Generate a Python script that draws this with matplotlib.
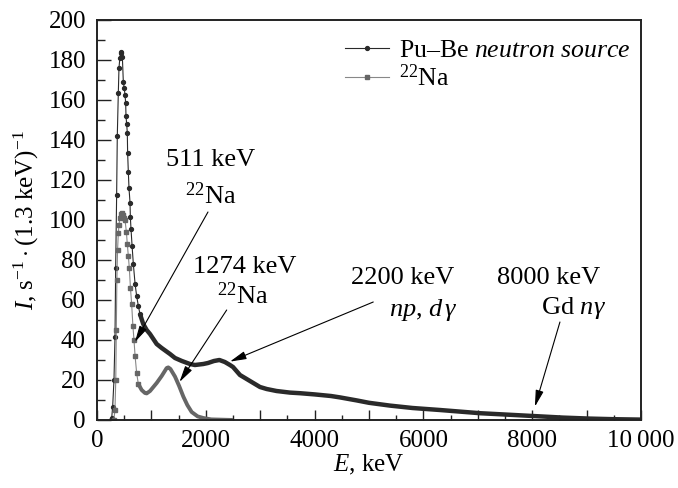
import numpy as np
import matplotlib
matplotlib.use('Agg')
import matplotlib.pyplot as plt
from matplotlib.lines import Line2D

plt.rcParams['font.family'] = ['Liberation Serif', 'DejaVu Serif']
plt.rcParams['mathtext.fontset'] = 'custom'
plt.rcParams['mathtext.rm'] = 'Liberation Serif'
plt.rcParams['mathtext.it'] = 'Liberation Serif:italic'
plt.rcParams['mathtext.bf'] = 'Liberation Serif:bold'

# Pu-Be neutron source spectrum (E in keV, counts per s per 1.3 keV)
pube_e = np.array([250, 270, 288, 312, 331, 343, 361, 373, 392, 404, 420, 435, 447, 466, 484,
                   500, 515, 527, 533, 545, 557, 563, 576, 588, 607, 613, 625, 645, 668, 700,
                   729, 760, 790, 850, 913, 974, 1097, 1189, 1342, 1434, 1560, 1709, 1800,
                   1954, 2040, 2150, 2250, 2350, 2444, 2500, 2628, 2812, 2996, 3119, 3300,
                   3547, 3731, 4000, 4300, 4466, 4773, 5000, 5385, 5800, 6304, 7040, 8014,
                   8565, 9061, 9500, 10000])
pube_i = np.array([0, 1, 6.7, 20, 41.7, 76, 112.5, 142, 163.7, 176, 181, 183.7, 184, 181.7, 169,
                   166, 162.5, 158.5, 152, 148, 143.7, 133.5, 124, 116, 108.7, 101.5, 95.5, 87,
                   78, 68, 62, 57, 53, 48, 45, 43, 38, 36, 33, 31, 29.5, 28, 27.5,
                   28, 28.5, 29.5, 30, 29, 27.5, 26.5, 22.5, 19.5, 16.5, 15.5, 14.5,
                   13.7, 13.4, 12.8, 12, 11.3, 9.8, 8.6, 7.2, 6, 5, 3.4, 2,
                   1.2, 0.7, 0.4, 0.2])

# 22Na spectrum
na_e = np.array([310, 330, 345, 355, 365, 378, 392, 404, 422, 440, 453, 470, 490, 515, 540,
                 557, 576, 594, 615, 637, 660, 680, 700, 729, 760, 821, 882, 913, 975, 1097,
                 1189, 1281, 1311, 1350, 1434, 1510, 1587, 1660, 1740, 1850, 1954, 2100, 2500])
na_i = np.array([0, 5, 20, 45, 70, 85, 93.5, 97.5, 101, 103, 103.5, 102.5, 101, 100, 94,
                 88, 82, 76, 66, 58, 47, 40, 32, 23.5, 18, 15, 13.5, 13.3, 14.5, 18.5,
                 22, 26, 26.3, 25.5, 21.7, 17, 11.7, 7.5, 4, 1.8, 1, 0.3, 0])

xticks = [0, 2000, 4000, 6000, 8000, 10000]
xticklabels = ['0', '2000', '4000', '6000', '8000', '10\u2009000']

c_pb = '#2a2a2a'
c_na = '#666666'

fig = plt.figure(figsize=(6.78, 4.88), dpi=100)
ax = fig.add_axes([97 / 678, 68 / 488, 544 / 678, 400 / 488])

# dotted (marker) part near the peak, dense thick part in the tail
k_pb = np.searchsorted(pube_e, 790)
ax.plot(pube_e[:k_pb + 1], pube_i[:k_pb + 1], '-', color=c_pb, lw=0.8,
        marker='o', ms=2.8, mec=c_pb, mfc=c_pb)
ax.plot(pube_e[k_pb:], pube_i[k_pb:], '-', color=c_pb, lw=3.2, solid_capstyle='butt')

k_na = np.searchsorted(na_e, 760)
ax.plot(na_e[:k_na + 1], na_i[:k_na + 1], '-', color='#888888', lw=0.8,
        marker='s', ms=2.6, mec=c_na, mfc=c_na)
ax.plot(na_e[k_na:], na_i[k_na:], '-', color=c_na, lw=2.8, solid_capstyle='butt')

ax.set_xlim(0, 10000)
ax.set_ylim(0, 200)

ax.set_xticks(np.arange(0, 10001, 1000))
ax.set_xticklabels([xticklabels[xticks.index(v)] if v in xticks else ''
                    for v in range(0, 10001, 1000)])
ax.set_xticks(np.arange(500, 10000, 1000), minor=True)
ax.set_yticks(np.arange(0, 201, 20))
ax.set_yticks(np.arange(10, 200, 20), minor=True)

ax.tick_params(axis='both', which='both', direction='in', top=False, right=False,
               labelsize=18, width=1.0, color='#222222')
ax.tick_params(axis='y', which='major', length=10, pad=8)
ax.tick_params(axis='y', which='minor', length=6)
ax.tick_params(axis='x', which='major', length=7, pad=7)
ax.tick_params(axis='x', which='minor', length=3.5)
for s in ax.spines.values():
    s.set_linewidth(1.4)
    s.set_color('#222222')

ax.set_xlabel(r'$E$, keV', fontsize=18, labelpad=1)
ax.set_ylabel(r'$I$, s$^{-1}\cdot$(1.3 keV)$^{-1}$', fontsize=18, labelpad=5)

# annotations
fs = 19
arrow = dict(arrowstyle='-|>,head_length=0.9,head_width=0.22', color='black', lw=0.8,
             shrinkA=0, shrinkB=0, mutation_scale=11)
ax.text(2095, 130, '511 keV', fontsize=fs, ha='center', va='center')
ax.text(2095, 112, r'$^{22}$Na', fontsize=fs, ha='center', va='center')
ax.annotate('', xy=(698, 39), xytext=(2040, 104), arrowprops=arrow)

ax.text(2720, 76.5, '1274 keV', fontsize=fs, ha='center', va='center')
ax.text(2680, 62, r'$^{22}$Na', fontsize=fs, ha='center', va='center')
ax.annotate('', xy=(1516, 19), xytext=(2384, 55), arrowprops=arrow)

ax.text(5624, 71, '2200 keV', fontsize=fs, ha='center', va='center')
ax.text(6010, 55, r'$np$, $d\,\gamma$', fontsize=fs, ha='center', va='center')
ax.annotate('', xy=(2444, 29.2), xytext=(5078, 59), arrowprops=arrow)

ax.text(8308, 71, '8000 keV', fontsize=fs, ha='center', va='center')
ax.text(8750, 56, r'Gd $n\gamma$', fontsize=fs, ha='center', va='center')
ax.annotate('', xy=(8050, 6.7), xytext=(8510, 49), arrowprops=arrow)

handles = [Line2D([], [], color=c_pb, lw=0.8, marker='o', ms=2.8),
           Line2D([], [], color='#888888', lw=0.8, marker='s', ms=2.6, mec=c_na, mfc=c_na)]
ax.legend(handles, [r'Pu–Be $neutron\ source$', r'$^{22}$Na'], loc='upper left',
          bbox_to_anchor=(0.456, 0.952), frameon=False, fontsize=18.5, numpoints=1,
          handlelength=1.7, handletextpad=0.4, labelspacing=0.1, borderpad=0,
          borderaxespad=0)

fig.savefig('out.png', dpi=100)
